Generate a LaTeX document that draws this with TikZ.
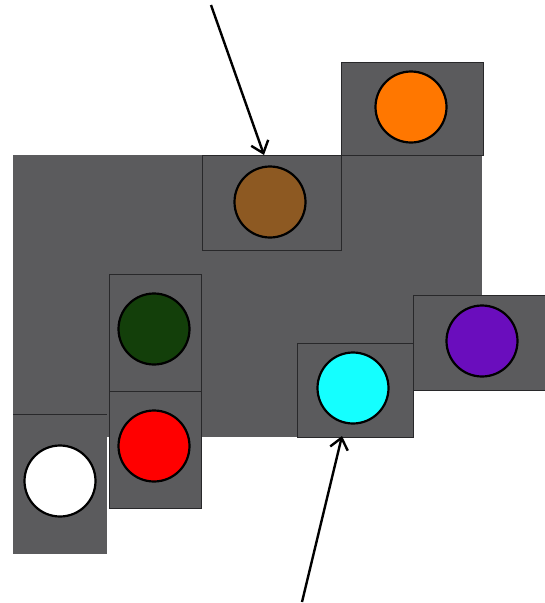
\documentclass[tikz,border=0pt]{standalone}
\usetikzlibrary{arrows.meta}
\definecolor{panel}{RGB}{91,91,93}
\definecolor{edge}{RGB}{40,40,42}
\definecolor{cbrown}{RGB}{141,89,34}
\definecolor{corange}{RGB}{255,119,0}
\definecolor{cgreen}{RGB}{19,63,10}
\definecolor{cred}{RGB}{255,0,0}
\definecolor{ccyan}{RGB}{20,255,255}
\definecolor{cpurple}{RGB}{106,13,189}
\begin{document}
\begin{tikzpicture}[x=1pt,y=-1pt,
  panelbox/.style={fill=panel,draw=edge,line width=0.9pt},
  lamp/.style={circle,draw=black,line width=2.2pt,minimum size=71pt,inner sep=0pt},
  pointer/.style={draw=black,line width=2.4pt,-{Straight Barb[length=11pt,width=18pt,line width=2.4pt]}}]
\useasboundingbox (0,0) rectangle (545,603);
% main background area
\fill[panel] (13,155) rectangle (413,437);
\fill[panel] (413,155) rectangle (482,390);
% boxes
\draw[panelbox] (341,62) rectangle (483,155);
\draw[panelbox] (202,155) rectangle (341,250);
\draw[panelbox] (109,274) rectangle (201,391);
\draw[panelbox] (109,391) rectangle (201,508);
\fill[panel] (13,414) rectangle (107,554);
\draw[edge,line width=0.9pt] (13,414) -- (107,414);
\draw[panelbox] (297,343) rectangle (413,437);
\draw[panelbox] (413,295) rectangle (545,390);
% lamps
\node[lamp,fill=corange] (orange) at (411,107) {};
\node[lamp,fill=cbrown] (brown) at (270,202) {};
\node[lamp,fill=cgreen] (green) at (154,329) {};
\node[lamp,fill=cred] (red) at (154,446) {};
\node[lamp,fill=white] (white) at (60,481) {};
\node[lamp,fill=ccyan] (cyan) at (353,388) {};
\node[lamp,fill=cpurple] (purple) at (482,341) {};
% arrows
\coordinate (s1) at (211,5);
\coordinate (e1) at (264,155);
\coordinate (s2) at (302,602);
\coordinate (e2) at (342,436);
\draw[pointer] (s1) -- (e1);
\draw[pointer] (s2) -- (e2);
\end{tikzpicture}
\end{document}
